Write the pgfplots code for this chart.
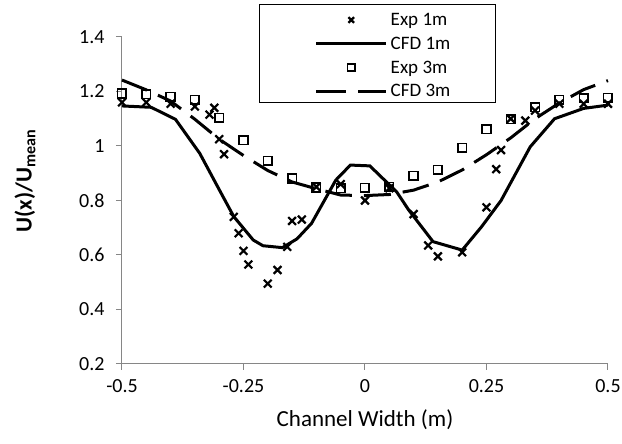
\documentclass[border=0pt]{standalone}
\usepackage{fontspec}
\setmainfont{Carlito}
\usepackage{pgfplots}
\pgfplotsset{compat=1.18}
\definecolor{axgray}{HTML}{868686}
\begin{document}
\begin{tikzpicture}
\begin{axis}[
  scale only axis, width=486pt, height=327pt, clip=false,
  xmin=-0.5, xmax=0.5, ymin=0.2, ymax=1.4,
  axis x line=bottom, axis y line=left,
  axis line style={draw=axgray, line width=1pt, -},
  tick style={draw=axgray, line width=1pt},
  tick align=outside, major tick length=6pt,
  xtick={-0.5,-0.25,0,0.25,0.5},
  xticklabels={-0.5,-0.25,0,0.25,0.5},
  ytick={0.2,0.4,0.6,0.8,1,1.2,1.4},
  yticklabels={0.2,0.4,0.6,0.8,1,1.2,1.4},
  ticklabel style={font=\fontsize{20}{24}\selectfont},
  xticklabel style={yshift=-6pt},
  yticklabel style={xshift=-8pt},
  xlabel={Channel Width (m)},
  xlabel style={at={(rel axis cs:0.5,-0.192)}, anchor=base, font=\fontsize{23}{27}\selectfont},
  ylabel={U(x)/U\textsubscript{mean}},
  ylabel style={at={(rel axis cs:-0.186,0.56)}, anchor=base, font=\fontsize{23}{27}\selectfont\bfseries},
  legend style={at={(rel axis cs:0.282,1.098)}, anchor=north west, draw=none, fill=none,
    font=\fontsize{19}{22}\selectfont, inner xsep=4pt, inner ysep=7pt,
    cells={anchor=west}, nodes={inner xsep=3pt, inner ysep=1pt}, row sep=8pt},
  legend cell align=left,
]
\addplot[only marks, mark=x, mark size=5.5pt, mark options={line width=2.2pt},
  legend image code/.code={\path[draw=none] (-53pt,0pt) -- (70pt,0pt);
    \draw plot[mark=x, mark size=4pt, mark options={line width=2.2pt}] coordinates {(35pt,0pt)};}] coordinates {
(-0.5,1.16) (-0.45,1.16) (-0.4,1.155) (-0.35,1.145) (-0.32,1.115) (-0.31,1.14)
(-0.30,1.025) (-0.29,0.97) (-0.27,0.74) (-0.26,0.68) (-0.25,0.615) (-0.24,0.565)
(-0.20,0.495) (-0.18,0.545) (-0.16,0.63) (-0.15,0.725) (-0.13,0.73) (-0.10,0.85)
(-0.05,0.86) (0,0.80) (0.05,0.845) (0.10,0.75) (0.13,0.635) (0.15,0.595) (0.20,0.61)
(0.25,0.775) (0.27,0.915) (0.28,0.985) (0.30,1.10) (0.33,1.093) (0.35,1.13)
(0.40,1.155) (0.45,1.155) (0.50,1.155)
};
\addlegendentry{Exp 1m}
\addplot[no marks, line width=3pt,
  legend image code/.code={\path[draw=none] (-53pt,0pt) -- (70pt,0pt);
    \draw[line width=3pt] (0pt,0pt) -- (70pt,0pt);}] coordinates {
(-0.5,1.147) (-0.44,1.142) (-0.39,1.098) (-0.34,0.973) (-0.30,0.84) (-0.27,0.741)
(-0.23,0.655) (-0.21,0.634) (-0.17,0.627) (-0.14,0.659) (-0.11,0.716) (-0.06,0.875)
(-0.03,0.93) (0.01,0.927) (0.065,0.832) (0.09,0.765) (0.14,0.649) (0.20,0.618)
(0.24,0.704) (0.28,0.80) (0.34,0.997) (0.39,1.10) (0.45,1.138) (0.5,1.15)
};
\addlegendentry{CFD 1m}
\addplot[only marks, mark=square, mark size=4.3pt, mark options={line width=1.6pt},
  legend image code/.code={\path[draw=none] (-53pt,0pt) -- (70pt,0pt);
    \draw plot[mark=square, mark size=3.6pt, mark options={line width=1.6pt}] coordinates {(35pt,0pt)};}] coordinates {
(-0.5,1.193) (-0.45,1.19) (-0.40,1.181) (-0.35,1.169) (-0.30,1.104) (-0.25,1.022)
(-0.20,0.946) (-0.15,0.881) (-0.10,0.848) (-0.05,0.845) (0,0.846) (0.05,0.85)
(0.10,0.891) (0.15,0.912) (0.20,0.994) (0.25,1.062) (0.30,1.098) (0.35,1.142)
(0.40,1.169) (0.45,1.175) (0.50,1.177)
};
\addlegendentry{Exp 3m}
\addplot[no marks, line width=3pt, dash pattern=on 27pt off 12pt,
  legend image code/.code={\path[draw=none] (-53pt,0pt) -- (70pt,0pt);
    \draw[line width=3pt, dash pattern=on 30pt off 12pt] (0pt,0pt) -- (70pt,0pt);}] coordinates {
(-0.5,1.242) (-0.45,1.206) (-0.4,1.165) (-0.35,1.098) (-0.3,1.025) (-0.25,0.965)
(-0.2,0.91) (-0.15,0.868) (-0.1,0.843) (-0.05,0.82) (0,0.818) (0.05,0.822)
(0.1,0.838) (0.15,0.868) (0.2,0.912) (0.25,0.968) (0.3,1.03) (0.35,1.10)
(0.4,1.158) (0.45,1.207) (0.5,1.24)
};
\addlegendentry{CFD 3m}
\draw[black, line width=1pt] (rel axis cs:0.282,1.098) rectangle (rel axis cs:0.7695,0.801);
\end{axis}
\pgfresetboundingbox
\useasboundingbox (-122pt,-80pt) rectangle (500pt,364pt);
\end{tikzpicture}
\end{document}
